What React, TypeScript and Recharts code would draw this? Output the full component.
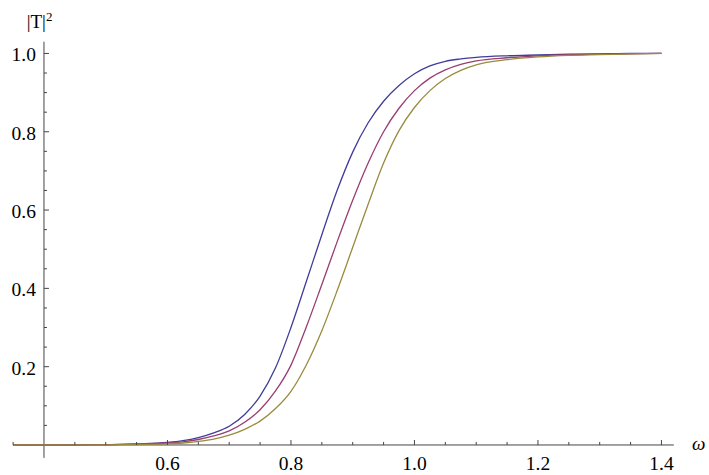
import { LineChart, Line, XAxis, YAxis, ReferenceLine } from 'recharts';

// omega grid and the three |T|^2 curves
const OMEGA = [
  0.35, 0.4, 0.45, 0.5, 0.55, 0.6, 0.625, 0.65, 0.675, 0.7, 0.725, 0.75, 0.775, 0.8, 0.825, 0.85,
  0.875, 0.9, 0.925, 0.95, 0.975, 1.0, 1.025, 1.05, 1.075, 1.1, 1.15, 1.2, 1.25, 1.3, 1.35, 1.4,
];
const BLUE = [
  0, 0.0003, 0.0006, 0.001, 0.003, 0.0065, 0.011, 0.019, 0.031, 0.048, 0.078, 0.125, 0.197, 0.3,
  0.418, 0.537, 0.651, 0.748, 0.823, 0.878, 0.918, 0.948, 0.968, 0.98, 0.986, 0.99, 0.994, 0.996,
  0.998, 0.999, 1, 1,
];
const MAGENTA = [
  0, 0.0002, 0.0004, 0.0008, 0.002, 0.005, 0.008, 0.014, 0.023, 0.036, 0.058, 0.09, 0.138, 0.204,
  0.302, 0.41, 0.52, 0.625, 0.72, 0.8, 0.86, 0.905, 0.937, 0.958, 0.972, 0.981, 0.989, 0.994,
  0.997, 0.998, 0.999, 1,
];
const GOLD = [
  0, 0.0001, 0.0002, 0.0005, 0.0012, 0.003, 0.005, 0.009, 0.015, 0.025, 0.04, 0.061, 0.093, 0.137,
  0.205, 0.292, 0.395, 0.505, 0.615, 0.72, 0.803, 0.862, 0.905, 0.936, 0.957, 0.971, 0.984, 0.991,
  0.995, 0.997, 0.999, 1,
];

const X_MAJOR = [0.6, 0.8, 1.0, 1.2, 1.4];
const X_LABELS = ['0.6', '0.8', '1.0', '1.2', '1.4'];
const X_MINOR = [0.35, 0.45, 0.5, 0.55, 0.65, 0.7, 0.75, 0.85, 0.9, 0.95, 1.05, 1.1, 1.15, 1.25, 1.3, 1.35];
const Y_MAJOR = [0.2, 0.4, 0.6, 0.8, 1.0];
const Y_LABELS = ['0.2', '0.4', '0.6', '0.8', '1.0'];
const Y_MINOR = [0.05, 0.1, 0.15, 0.25, 0.3, 0.35, 0.45, 0.5, 0.55, 0.65, 0.7, 0.75, 0.85, 0.9, 0.95];

const data = OMEGA.map((w, i) => ({ w, a: BLUE[i], b: MAGENTA[i], c: GOLD[i] }));

const W = 709;
const H = 475;
// axes take 1px each, so the plot box is 13.1 .. 673.8 by 41.7 .. 457.9
const M = { top: 41.7, right: 35.2, bottom: 16.1, left: 12.1 };
const X_DOM: [number, number] = [0.35, 1.42];
const Y_DOM: [number, number] = [-0.033, 1.03];
const PLOT_LEFT = M.left + 1;
const PLOT_W = W - PLOT_LEFT - M.right;
const PLOT_H = H - M.top - M.bottom - 1;
// where the axes cross (omega = 0.4, |T|^2 = 0)
const X0 = PLOT_LEFT + (PLOT_W * (0.4 - X_DOM[0])) / (X_DOM[1] - X_DOM[0]);
const Y0 = M.top + (PLOT_H * (Y_DOM[1] - 0)) / (Y_DOM[1] - Y_DOM[0]);

const FONT = '"Liberation Serif", "DejaVu Serif", "Times New Roman", serif';
const AXIS = '#444';

const near = (list: number[], v: number) => list.findIndex((t) => Math.abs(t - v) < 1e-6);

function XTick(props: any) {
  const { x, payload } = props;
  const i = near(X_MAJOR, payload.value);
  const len = i >= 0 ? 5 : 3;
  return (
    <g>
      <line x1={x} x2={x} y1={Y0} y2={Y0 - len} stroke={AXIS} strokeWidth={1} />
      {i >= 0 && (
        <text x={x} y={Y0 + 25.5} textAnchor="middle" fontFamily={FONT} fontSize={19.5} fill="#000">
          {X_LABELS[i]}
        </text>
      )}
    </g>
  );
}

function YTick(props: any) {
  const { y, payload } = props;
  const i = near(Y_MAJOR, payload.value);
  const len = i >= 0 ? 5 : 3;
  return (
    <g>
      <line x1={X0} x2={X0 + len} y1={y} y2={y} stroke={AXIS} strokeWidth={1} />
      {i >= 0 && (
        <text x={X0 - 8} y={y + 8} textAnchor="end" fontFamily={FONT} fontSize={19.5} fill="#000">
          {Y_LABELS[i]}
        </text>
      )}
    </g>
  );
}

export default function App() {
  return (
    <div style={{ position: 'absolute', left: 0, top: 0, width: W, height: H, background: '#fff' }}>
      <LineChart width={W} height={H} data={data} margin={M}>
        <XAxis
          dataKey="w"
          type="number"
          domain={X_DOM}
          ticks={[...X_MINOR, ...X_MAJOR].sort((p, q) => p - q)}
          interval={0}
          height={1}
          axisLine={false}
          tickLine={false}
          tickSize={0}
          tickMargin={0}
          tick={<XTick />}
        />
        <YAxis
          type="number"
          domain={Y_DOM}
          ticks={[...Y_MINOR, ...Y_MAJOR].sort((p, q) => p - q)}
          interval={0}
          width={1}
          axisLine={false}
          tickLine={false}
          tickSize={0}
          tickMargin={0}
          tick={<YTick />}
        />
        <ReferenceLine y={0} stroke={AXIS} strokeWidth={1} />
        <ReferenceLine x={0.4} stroke={AXIS} strokeWidth={1} />
        <Line dataKey="a" type="monotone" stroke="rgb(63,61,153)" strokeWidth={1.3} dot={false} isAnimationActive={false} />
        <Line dataKey="b" type="monotone" stroke="rgb(153,61,113)" strokeWidth={1.3} dot={false} isAnimationActive={false} />
        <Line dataKey="c" type="monotone" stroke="rgb(153,139,61)" strokeWidth={1.3} dot={false} isAnimationActive={false} />
      </LineChart>
      <svg width={W} height={H} style={{ position: 'absolute', left: 0, top: 0, pointerEvents: 'none' }}>
        <text x={26.7} y={28} fontFamily={FONT} fontSize={19} fill="#000">
          |T|
          <tspan dy={-7} fontSize={13}>2</tspan>
        </text>
        <text x={692} y={450} fontFamily={FONT} fontSize={19} fontStyle="italic" fill="#000">
          ω
        </text>
      </svg>
    </div>
  );
}
